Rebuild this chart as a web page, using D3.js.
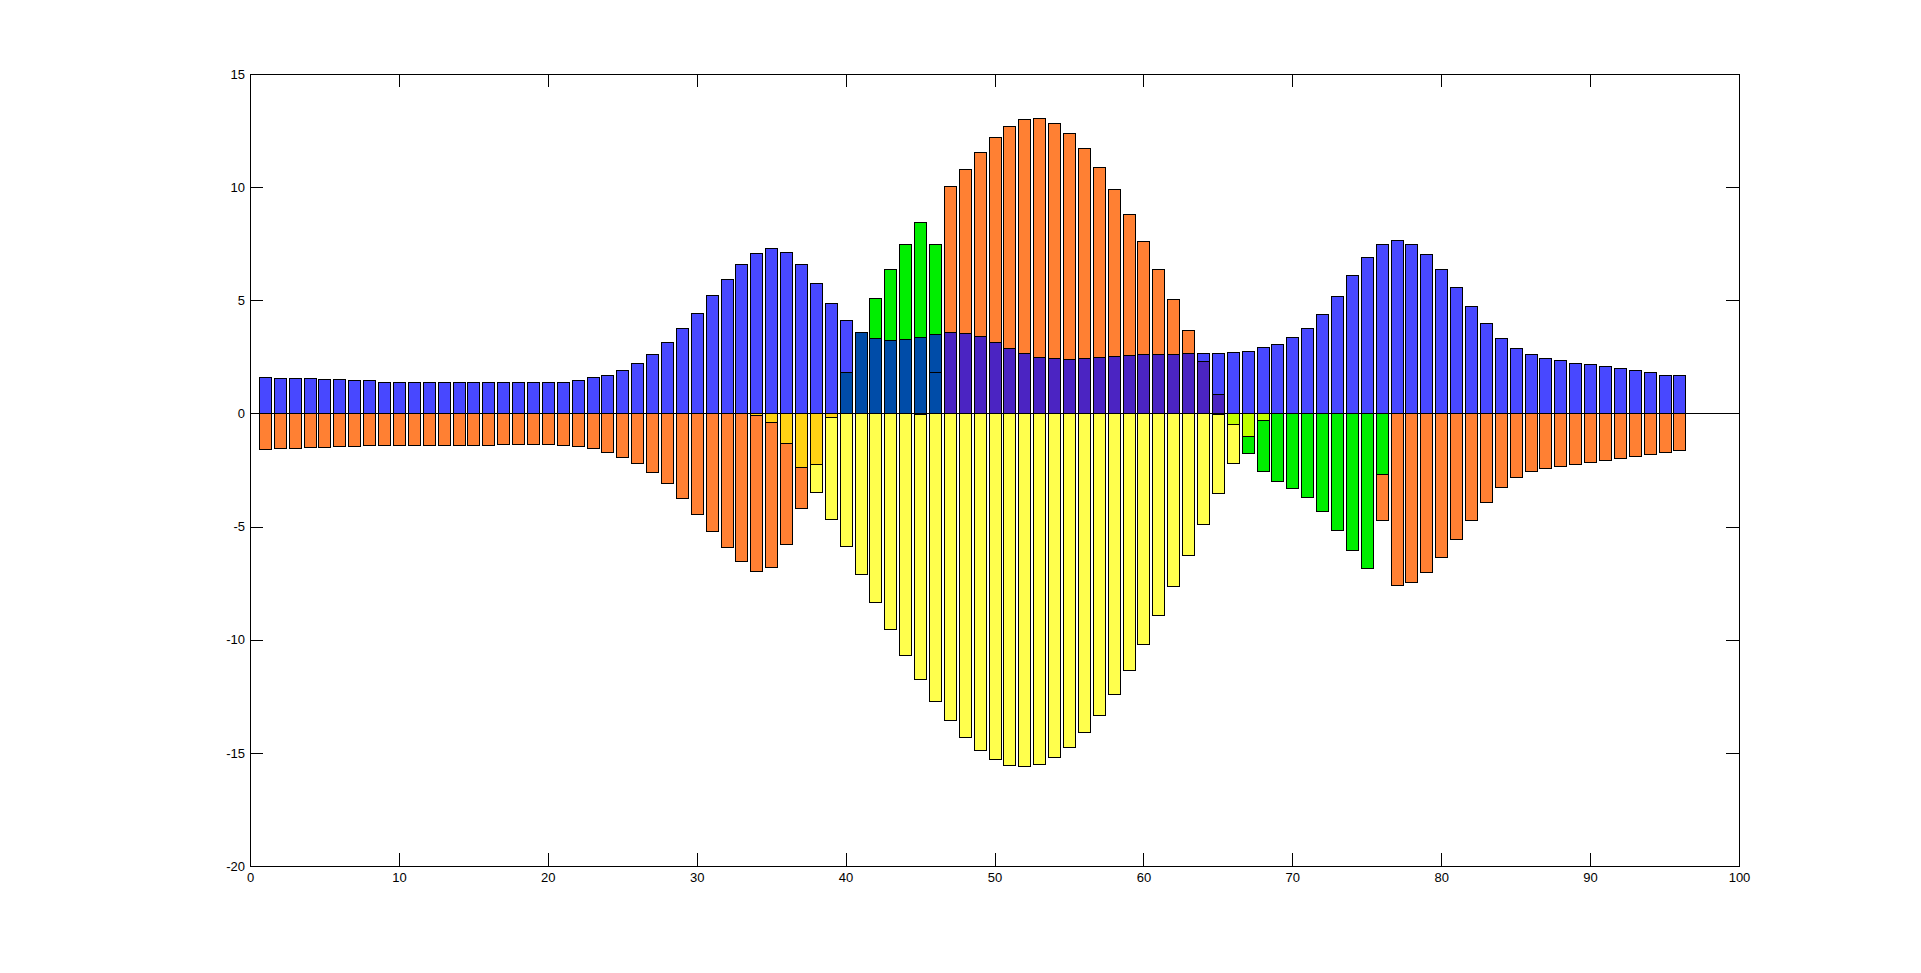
<!DOCTYPE html>
<html>
<head>
<meta charset="utf-8">
<script src="https://cdn.jsdelivr.net/npm/d3@7"></script>
<style>
  body { margin: 0; background: #fff; }
  #chart text { font-family: "Liberation Sans", Arial, sans-serif; font-size: 13px; fill: #000; }
</style>
</head>
<body>
<div id="chart"></div>
<script>
// bar values, each series starts at the given x position
const blueStart = 1;
const blueLeft = [1.59, 1.55, 1.55, 1.55, 1.5, 1.5, 1.46, 1.46, 1.41, 1.41, 1.41, 1.41, 1.41, 1.41, 1.41, 1.41,
  1.41, 1.37, 1.37, 1.37, 1.41, 1.46, 1.59, 1.72, 1.94, 2.25, 2.61, 3.14, 3.76, 4.46, 5.22, 5.92, 6.59, 7.07,
  7.29, 7.12, 6.59, 5.75, 4.86, 4.11];
const blueRightStart = 64;
const blueRight = [2.65, 2.65, 2.7, 2.78, 2.92, 3.05, 3.36, 3.76, 4.38, 5.17, 6.1, 6.9, 7.47, 7.65, 7.47, 7.03,
  6.37, 5.57, 4.73, 3.98, 3.32, 2.87, 2.61, 2.43, 2.34, 2.25, 2.17, 2.08, 1.99, 1.9, 1.81, 1.72, 1.68];

const orangeLeft = [-1.59, -1.55, -1.55, -1.5, -1.5, -1.46, -1.46, -1.41, -1.41, -1.41, -1.41, -1.41, -1.41, -1.41,
  -1.41, -1.41, -1.37, -1.37, -1.37, -1.37, -1.41, -1.46, -1.55, -1.71, -1.95, -2.21, -2.61, -3.1, -3.76, -4.47,
  -5.2, -5.91, -6.54, -6.99, -6.81, -5.78, -4.2];
const orangeMidStart = 47;
const orangeMid = [10.06, 10.79, 11.54, 12.2, 12.69, 13.0, 13.04, 12.82, 12.38, 11.72, 10.88, 9.9, 8.8, 7.6,
  6.37, 5.04, 3.67];
const orangeRightStart = 76;
const orangeRight = [-4.72, -7.59, -7.47, -7.03, -6.35, -5.56, -4.72, -3.92, -3.26, -2.83, -2.56, -2.43, -2.34,
  -2.25, -2.17, -2.08, -1.99, -1.9, -1.81, -1.72, -1.64];

const yellowStart = 38;
const yellow = [-3.49, -4.67, -5.87, -7.12, -8.36, -9.55, -10.7, -11.76, -12.73, -13.57, -14.32, -14.9, -15.3,
  -15.56, -15.61, -15.52, -15.21, -14.77, -14.1, -13.35, -12.42, -11.36, -10.21, -8.93, -7.65, -6.28, -4.89,
  -3.52, -2.2];

const greenTopStart = 42;
const greenTop = [5.08, 6.37, 7.47, 8.47, 7.47];
const greenBottomStart = 67;
const greenBottom = [-1.76, -2.57, -3.0, -3.32, -3.71, -4.32, -5.16, -6.04, -6.87, -2.68];

const darkBlueStart = 41;
const darkBlue = [3.58, 3.32, 3.23, 3.27, 3.36, 3.49];
const darkBlueLowX = [40, 46];
const darkBlueLow = [1.81, 1.81];

const goldStart = 34;
const gold = [-0.08, -0.4, -1.33, -2.39, -2.26, -0.18];

const limeStart = 66;
const lime = [-0.49, -1.0, -0.3];

const purpleStart = 47;
const purple = [3.58, 3.54, 3.4, 3.14, 2.87, 2.65, 2.48, 2.43, 2.39, 2.43, 2.48, 2.52, 2.56, 2.61, 2.61, 2.61,
  2.65, 2.3, 0.88];

const xTicks = d3.range(0, 101, 10);
const yTicks = d3.range(-20, 16, 5);

function span(start, values) {
  return values.map((v, i) => ({ x: start + i, v: v }));
}

// drawing order matters: later series cover earlier ones
const layers = [
  { color: '#4848ff', data: span(blueStart, blueLeft).concat(span(blueRightStart, blueRight)) },
  { color: '#ff8033', data: span(1, orangeLeft).concat(span(orangeMidStart, orangeMid), span(orangeRightStart, orangeRight)) },
  { color: '#ffff4d', data: span(yellowStart, yellow) },
  { color: '#00ee00', data: span(greenTopStart, greenTop).concat(span(greenBottomStart, greenBottom)) },
  { color: '#004ca8', data: span(darkBlueStart, darkBlue) },
  { color: '#004ca8', data: darkBlueLow.map((v, i) => ({ x: darkBlueLowX[i], v: v })) },
  { color: '#ffd214', data: span(goldStart, gold) },
  { color: '#bfff00', data: span(limeStart, lime) },
  { color: '#4b24c2', data: span(purpleStart, purple) }
];

const margin = { top: 74, right: 182, bottom: 107, left: 250 };
const width = 1921 - margin.left - margin.right;
const height = 973 - margin.top - margin.bottom;

const svg = d3
  .select('#chart')
  .append('svg')
  .attr('width', 1921)
  .attr('height', 973)
  .append('g')
  .attr('transform', `translate(${margin.left},${margin.top})`);

const x = d3.scaleLinear().domain([0, 100]).range([0, width]);
const y = d3.scaleLinear().domain([-20, 15]).range([height, 0]);
const barW = x(0.8) - x(0);

layers.forEach(function (layer) {
  svg
    .append('g')
    .selectAll('rect')
    .data(layer.data)
    .enter()
    .append('rect')
    .attr('x', (d) => Math.round(x(d.x) - barW / 2) + 0.5)
    .attr('y', (d) => Math.round(y(Math.max(0, d.v))) + 0.5)
    .attr('width', Math.round(barW))
    .attr('height', (d) => Math.max(1, Math.round(Math.abs(y(d.v) - y(0)))))
    .attr('fill', layer.color)
    .attr('stroke', '#000')
    .attr('stroke-width', 1);
});

// baseline at zero
svg
  .append('line')
  .attr('x1', 0)
  .attr('x2', width)
  .attr('y1', Math.round(y(0)) + 0.5)
  .attr('y2', Math.round(y(0)) + 0.5)
  .attr('stroke', '#000');

// MATLAB-style box with inward ticks, plain hyphen for negatives
const plain = (d) => String(d);
const tick = 13;
svg.append('g').attr('transform', `translate(0,${height})`)
  .call(d3.axisBottom(x).tickValues(xTicks).tickSize(-tick).tickSizeOuter(0).tickPadding(7).tickFormat(plain));
svg.append('g')
  .call(d3.axisTop(x).tickValues(xTicks).tickSize(-tick).tickSizeOuter(0).tickFormat(''));
svg.append('g')
  .call(d3.axisLeft(y).tickValues(yTicks).tickSize(-tick).tickSizeOuter(0).tickPadding(5).tickFormat(plain));
svg.append('g').attr('transform', `translate(${width},0)`)
  .call(d3.axisRight(y).tickValues(yTicks).tickSize(-tick).tickSizeOuter(0).tickFormat(''));

svg.selectAll('.domain, .tick line').attr('stroke', '#000').attr('shape-rendering', 'crispEdges');
svg.selectAll('.tick text').attr('font-family', null).attr('font-size', null);
</script>
</body>
</html>
